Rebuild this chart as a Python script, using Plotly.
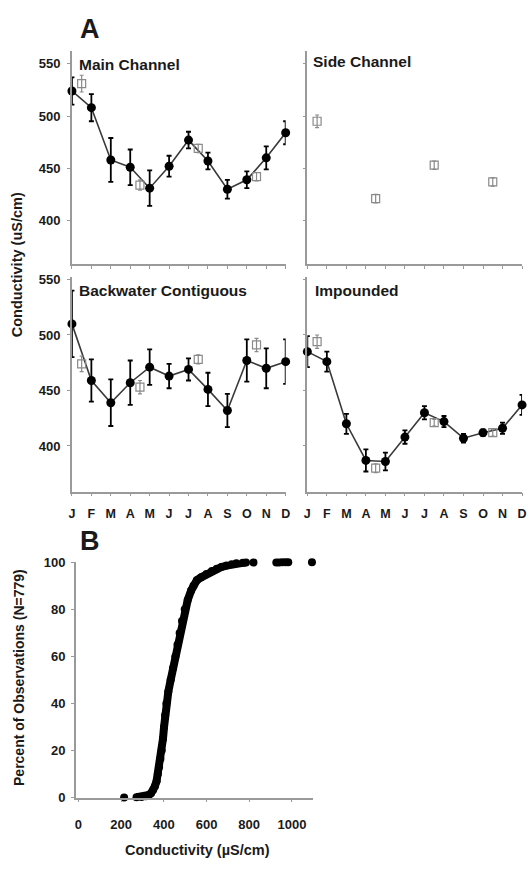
import plotly.graph_objects as go

W, H = 530, 871

months = ['J', 'F', 'M', 'A', 'M', 'J', 'J', 'A', 'S', 'O', 'N', 'D']
month_idx = list(range(12))
season_pos = [0.5, 3.5, 6.5, 9.5]

# Monthly means (filled circles) and seasonal means (open squares), uS/cm
main_mean = [524, 508, 458, 451, 431, 452, 477, 457, 430, 439, 460, 484]
main_err = [13, 13, 21, 17, 17, 10, 8, 8, 9, 8, 11, 11]
main_season = [531, 434, 469, 442]
main_season_err = [8, 5, 4, 4]

side_season = [495, 421, 453, 437]
side_season_err = [6, 4, 4, 4]

back_mean = [510, 459, 439, 457, 471, 463, 469, 451, 432, 477, 470, 476]
back_err = [30, 19, 21, 20, 16, 11, 10, 15, 15, 19, 18, 20]
back_season = [474, 453, 478, 491]
back_season_err = [7, 6, 4, 6]

imp_mean = [485, 476, 420, 387, 386, 408, 430, 422, 407, 412, 416, 437]
imp_err = [14, 9, 9, 10, 8, 6, 6, 5, 4, 3, 5, 9]
imp_season = [494, 380, 421, 412]
imp_season_err = [6, 4, 3, 3]

# Cumulative distribution of all observations (N=779)
cdf_low_cond = [214]
cdf_low_pct = [0.1]
cdf_cond = [272, 295, 315, 330, 340, 350, 358, 366, 372, 378, 384, 390, 396, 401,
            406, 412, 421, 432, 443, 454, 464, 474, 485, 498, 512, 528, 539, 555,
            575, 600, 625, 648, 670, 694, 718, 740, 770, 785]
cdf_pct = [0.2, 0.3, 0.6, 1.1, 1.9, 3.2, 4.8, 7, 10, 13, 16.5, 20, 25, 30,
           35, 40, 45, 50, 55, 60, 65, 70, 75, 80, 84, 88, 90, 92.4,
           93.6, 95, 96.3, 97.2, 98, 98.6, 99.2, 99.6, 99.8, 99.9]
cdf_tail_cond = [820, 927, 940, 955, 970, 983, 1094]
cdf_tail_pct = [99.9, 99.9, 99.9, 100, 100, 100, 100]

FONT = "Liberation Sans"
AXIS_GREY = "#9a9a9a"
TXT = "#1a1a1a"


def px_x(a, b):
    return [a / W, b / W]


def px_y(top, bottom):
    return [1 - bottom / H, 1 - top / H]


fig = go.Figure()


def add_monthly(mean, err, xa, ya):
    fig.add_trace(go.Scatter(
        x=month_idx, y=mean, xaxis=xa, yaxis=ya, mode='lines+markers',
        line=dict(color='#3a3a3a', width=1.6),
        marker=dict(color='black', size=9),
        error_y=dict(type='data', array=err, color='black', thickness=1.8, width=2.5),
        cliponaxis=False, showlegend=False, hoverinfo='skip'))


def add_season(vals, err, xa, ya):
    fig.add_trace(go.Scatter(
        x=season_pos, y=vals, xaxis=xa, yaxis=ya, mode='markers',
        marker=dict(symbol='square-open', color='#8a8a8a', size=8,
                    line=dict(width=1.2)),
        error_y=dict(type='data', array=err, color='#8a8a8a', thickness=1.2, width=2),
        cliponaxis=False, showlegend=False, hoverinfo='skip'))


add_monthly(main_mean, main_err, 'x', 'y')
add_season(main_season, main_season_err, 'x', 'y')
add_season(side_season, side_season_err, 'x2', 'y2')
add_monthly(back_mean, back_err, 'x3', 'y3')
add_season(back_season, back_season_err, 'x3', 'y3')
add_monthly(imp_mean, imp_err, 'x4', 'y4')
add_season(imp_season, imp_season_err, 'x4', 'y4')

# Panel B: cumulative percent of observations
fig.add_trace(go.Scatter(
    x=cdf_low_cond, y=cdf_low_pct, xaxis='x5', yaxis='y5', mode='markers',
    marker=dict(color='black', size=8), cliponaxis=False, showlegend=False,
    hoverinfo='skip'))
fig.add_trace(go.Scatter(
    x=cdf_cond, y=cdf_pct, xaxis='x5', yaxis='y5', mode='lines+markers',
    line=dict(color='black', width=8), marker=dict(color='black', size=8),
    cliponaxis=False, showlegend=False, hoverinfo='skip'))
fig.add_trace(go.Scatter(
    x=cdf_tail_cond, y=cdf_tail_pct, xaxis='x5', yaxis='y5', mode='markers',
    marker=dict(color='black', size=8), cliponaxis=False, showlegend=False,
    hoverinfo='skip'))

tickfont = dict(family=FONT, size=13, color=TXT, weight='bold')
monthfont = dict(family=FONT, size=12.5, color=TXT, weight='bold')
common = dict(showline=True, linecolor=AXIS_GREY, linewidth=1.6, showgrid=False,
              zeroline=False, ticks='outside', ticklen=3, tickwidth=1,
              tickcolor=AXIS_GREY, fixedrange=True)

top_y = px_y(45, 262)
bot_y = px_y(275, 493)
left_x = px_x(70, 287)
right_x = px_x(309, 527)
range_top = [358, 562]
range_bot = [359, 552]
mrange = [0, 11]

layout_axes = dict(
    xaxis=dict(domain=left_x, range=mrange, anchor='y', tickvals=month_idx,
               showticklabels=False, **common),
    yaxis=dict(domain=top_y, range=range_top, anchor='x', tickfont=tickfont,
               tickvals=[400, 450, 500, 550], ticklabelstandoff=4, **common),
    xaxis2=dict(domain=right_x, range=mrange, anchor='y2', tickvals=month_idx,
                showticklabels=False, **common),
    yaxis2=dict(domain=top_y, range=range_top, anchor='x2',
                tickvals=[400, 450, 500, 550], showticklabels=False, **common),
    xaxis3=dict(domain=left_x, range=mrange, anchor='y3', tickvals=month_idx,
                ticktext=months, tickfont=monthfont, ticklabelstandoff=7, **common),
    yaxis3=dict(domain=bot_y, range=range_bot, anchor='x3', tickfont=tickfont,
                tickvals=[400, 450, 500, 550], ticklabelstandoff=4, **common),
    xaxis4=dict(domain=right_x, range=mrange, anchor='y4', tickvals=month_idx,
                ticktext=months, tickfont=monthfont, ticklabelstandoff=7, **common),
    yaxis4=dict(domain=bot_y, range=range_bot, anchor='x4',
                tickvals=[400, 450, 500, 550], showticklabels=False, **common),
    xaxis5=dict(domain=px_x(74, 315), range=[-12, 1100], anchor='y5',
                tickfont=tickfont, tickvals=[0, 200, 400, 600, 800, 1000],
                ticklabelstandoff=11, **common),
    yaxis5=dict(domain=px_y(565, 804.5), range=[0, 100], anchor='x5',
                tickfont=tickfont, tickvals=[0, 20, 40, 60, 80, 100],
                ticklabelstandoff=3, **common),
)


def ann(text, x, y, size, angle=0, xanchor='center'):
    return dict(text=text, x=x / W, y=1 - y / H, xref='paper', yref='paper',
                showarrow=False, textangle=angle, xanchor=xanchor, yanchor='middle',
                font=dict(family=FONT, size=size, color=TXT, weight='bold'))


annotations = [
    ann('A', 88, 22, 27),
    ann('B', 88, 543, 27),
    ann('Main Channel', 75, 58, 15.5, xanchor='left'),
    ann('Side Channel', 313, 55, 15.5, xanchor='left'),
    ann('Backwater Contiguous', 75, 288, 15.5, xanchor='left'),
    ann('Impounded', 315, 288, 15.5, xanchor='left'),
    ann('Conductivity (uS/cm)', 15, 262, 14.5, angle=-90),
    ann('Percent of Observations (N=779)', 17, 682, 14, angle=-90),
    ann('Conductivity (µS/cm)', 197, 858, 14.5),
]

fig.update_layout(
    width=W, height=H, margin=dict(l=0, r=0, t=0, b=0),
    paper_bgcolor='white', plot_bgcolor='white',
    annotations=annotations, **layout_axes)

fig.write_html("out.html")
